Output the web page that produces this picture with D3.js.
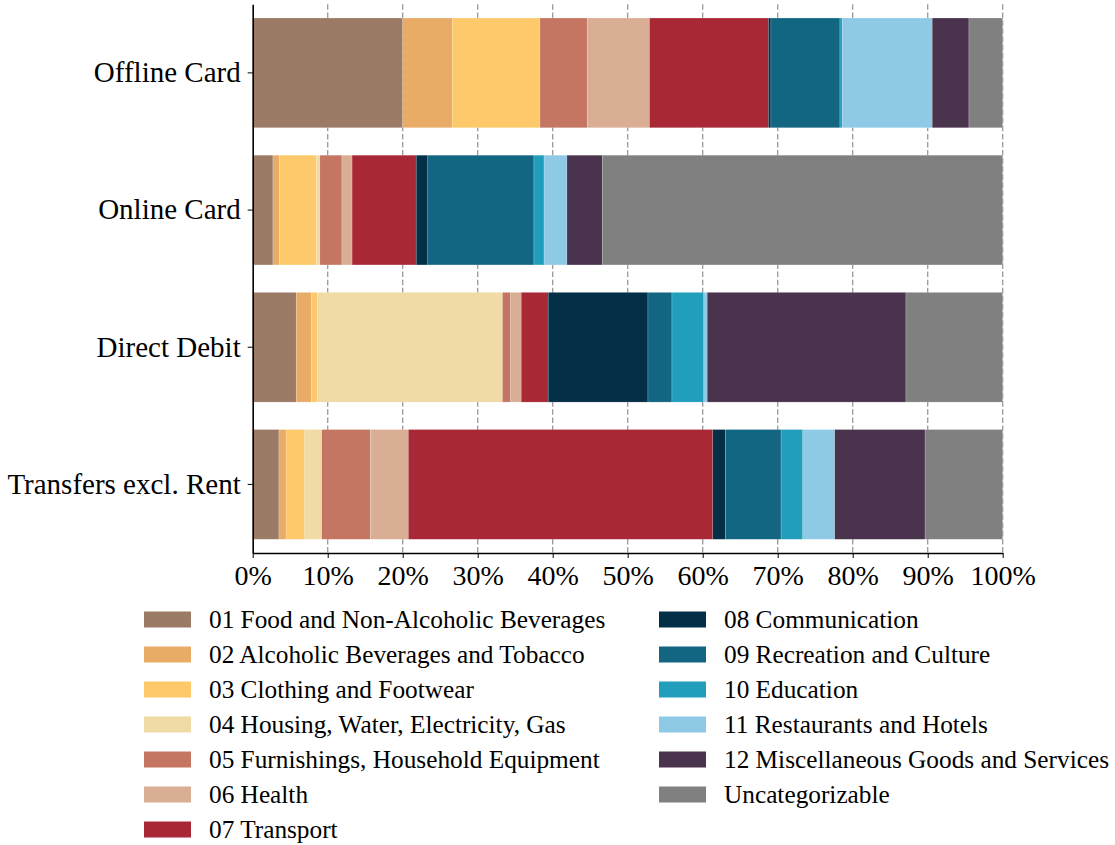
<!DOCTYPE html>
<html>
<head>
<meta charset="utf-8">
<script src="https://cdn.jsdelivr.net/npm/d3@7"></script>
<style>
  html, body { margin: 0; padding: 0; background: #fff; }
  svg { display: block; }
  text { font-family: "Liberation Serif", "DejaVu Serif", serif; fill: #000; }
</style>
</head>
<body>
<svg id="chart" width="1115" height="845"></svg>
<script>
// ---- Data (shares in %) ----
const channels = ["Offline Card", "Online Card", "Direct Debit", "Transfers excl. Rent"];
const seriesNames = [
  "01 Food and Non-Alcoholic Beverages",
  "02 Alcoholic Beverages and Tobacco",
  "03 Clothing and Footwear",
  "04 Housing, Water, Electricity, Gas",
  "05 Furnishings, Household Equipment",
  "06 Health",
  "07 Transport",
  "08 Communication",
  "09 Recreation and Culture",
  "10 Education",
  "11 Restaurants and Hotels",
  "12 Miscellaneous Goods and Services",
  "Uncategorizable"
];
const seriesColors = [
  "#9b7b65", "#e8ac66", "#fdc96a", "#f0dba7", "#c47663", "#d9ae94", "#a92836",
  "#032f47", "#136682", "#219ebc", "#8ecae6", "#4a334d", "#808080"
];
const offlineCard = [20.0, 6.6, 11.7, 0.0, 6.3, 8.3, 15.85, 0.35, 9.2, 0.3, 12.0, 4.9, 4.5];
const onlineCard  = [2.7, 0.85, 4.95, 0.45, 2.95, 1.35, 8.55, 1.55, 14.15, 1.35, 3.05, 4.7, 53.4];
const directDebit = [5.8, 2.0, 0.8, 24.7, 1.1, 1.4, 3.6, 13.3, 3.2, 4.25, 0.45, 26.5, 12.9];
const transfers   = [3.5, 0.95, 2.5, 2.25, 6.5, 5.05, 40.6, 1.7, 7.4, 2.9, 4.25, 12.05, 10.35];
const xTicks = [0, 10, 20, 30, 40, 50, 60, 70, 80, 90, 100];

// ---- Build table ----
const channelValues = [offlineCard, onlineCard, directDebit, transfers];
const table = channels.map((c, i) => {
  const row = { channel: c };
  seriesNames.forEach((s, j) => { row[s] = channelValues[i][j]; });
  return row;
});

const svg = d3.select("#chart");
const plotLeft = 252.7, plotRight = 1002.7, plotTop = 4.3, plotBottom = 553;

const x = d3.scaleLinear().domain([0, 100]).range([plotLeft, plotRight]);
const y = d3.scaleBand().domain(channels).range([plotTop, plotBottom]).paddingInner(0.2).paddingOuter(0.1);
const color = d3.scaleOrdinal().domain(seriesNames).range(seriesColors);

// grid
svg.append("g").selectAll("line").data(xTicks.filter(d => d > 0)).join("line")
  .attr("x1", d => x(d)).attr("x2", d => x(d))
  .attr("y1", plotTop).attr("y2", plotBottom)
  .attr("stroke", "#999").attr("stroke-width", 1.3)
  .attr("stroke-dasharray", "5.5,2.6");

// bars
const stack = d3.stack().keys(seriesNames)(table);
svg.append("g").selectAll("g").data(stack).join("g")
  .attr("fill", d => color(d.key))
  .selectAll("rect").data(d => d).join("rect")
  .attr("x", d => x(d[0]))
  .attr("width", d => Math.max(0, x(d[1]) - x(d[0])))
  .attr("y", d => y(d.data.channel))
  .attr("height", y.bandwidth())
  .attr("stroke", "#fff").attr("stroke-width", 0.5).attr("stroke-opacity", 0.35);

// x axis
const xAxis = svg.append("g").attr("transform", `translate(0,${plotBottom})`)
  .call(d3.axisBottom(x).tickValues(xTicks).tickFormat(d => d + "%").tickSize(5).tickSizeOuter(0).tickPadding(7));
xAxis.select(".domain").attr("stroke", "#000").attr("stroke-width", 1.6);
xAxis.selectAll(".tick line").attr("stroke", "#000").attr("stroke-width", 1);
xAxis.selectAll(".tick text").attr("font-size", 28).attr("font-family", "Liberation Serif");

// y axis
const yAxis = svg.append("g").attr("transform", `translate(${plotLeft},0)`)
  .call(d3.axisLeft(y).tickSize(5).tickSizeOuter(0).tickPadding(7));
yAxis.select(".domain").attr("stroke", "#000").attr("stroke-width", 1.6);
yAxis.selectAll(".tick line").attr("stroke", "#000").attr("stroke-width", 1);
yAxis.selectAll(".tick text").attr("font-size", 29).attr("font-family", "Liberation Serif");

// legend
const legend = svg.append("g");
seriesNames.forEach((s, i) => {
  const col = i < 7 ? 0 : 1;
  const row = i < 7 ? i : i - 7;
  const sx = col === 0 ? 144 : 659;
  const cy = 619.5 + row * 35;
  legend.append("rect").attr("x", sx).attr("y", cy - 8).attr("width", 47).attr("height", 16)
    .attr("fill", color(s));
  legend.append("text").attr("x", sx + 65).attr("y", cy).attr("dy", "0.35em")
    .attr("font-size", 25.3).text(s);
});
</script>
</body>
</html>
